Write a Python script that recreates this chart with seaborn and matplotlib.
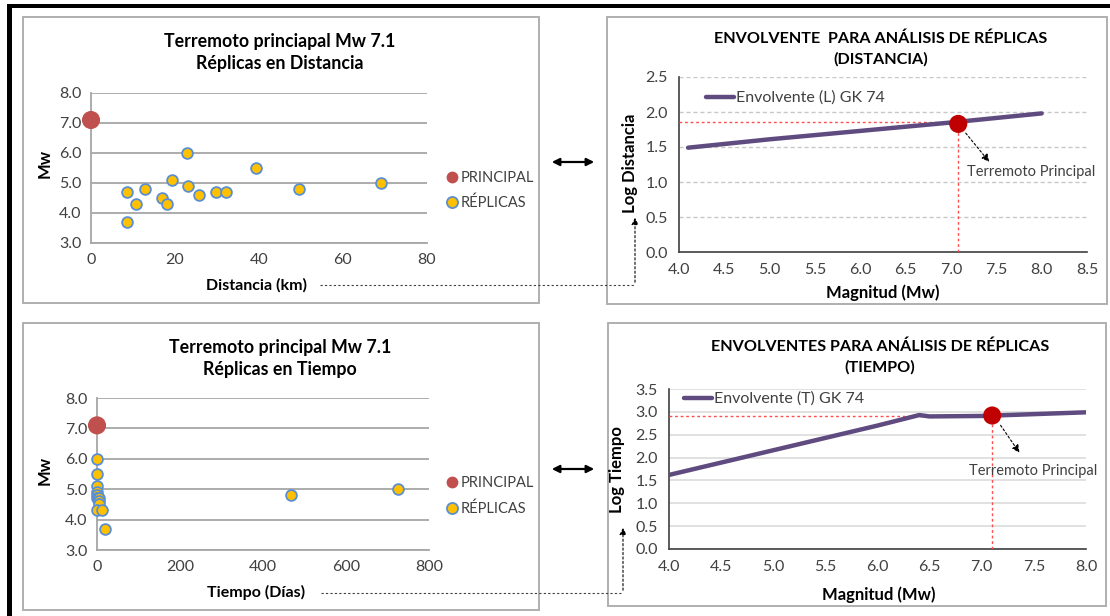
import matplotlib
matplotlib.use("Agg")
import matplotlib.pyplot as plt
import numpy as np
import seaborn as sns
from matplotlib.lines import Line2D
from matplotlib.patches import Rectangle

# ---- data ----
principal_dist = [0.0]
principal_mw = [7.1]
dist_km = [8.5, 8.5, 10.7, 12.9, 16.8, 18.2, 19.4, 22.8, 23.2, 25.8, 29.8, 32.1, 39.4, 49.6, 69.0]
mw_dist = [4.7, 3.7, 4.3, 4.8, 4.5, 4.3, 5.1, 6.0, 4.9, 4.6, 4.7, 4.7, 5.5, 4.8, 5.0]

principal_dias = [0.0]
tiempo_dias = [1, 1, 1, 1, 0, 0, 2, 6, 5, 6, 1, 13, 19, 467, 725]
mw_tiempo = [6.0, 5.5, 5.1, 4.9, 4.8, 4.7, 4.7, 4.7, 4.6, 4.5, 4.3, 4.3, 3.7, 4.8, 5.0]

env_l_mag = [4.1, 5.0, 6.0, 7.0, 8.0]
env_l_log = [1.49, 1.61, 1.73, 1.85, 1.98]
princ_l_mag, princ_l_log, princ_l_ref = 7.08, 1.83, 1.86

env_t_mag = [4.0, 4.5, 5.0, 5.5, 6.0, 6.4, 6.5, 7.0, 7.5, 8.0]
env_t_log = [1.62, 1.89, 2.16, 2.43, 2.70, 2.93, 2.90, 2.91, 2.95, 2.99]
princ_t_mag, princ_t_log, princ_t_ref = 7.1, 2.92, 2.91

W, H = 1110, 616
RED_L = "#C0504D"
GOLD = "#FFC000"
BLUE = "#5B8FD0"
PURPLE = "#5F4B7F"
RED_P = "#C00000"
TXT = "#404040"

sns.set_theme(style="white")
plt.rcParams["font.family"] = ["Lato", "DejaVu Sans"]

fig = plt.figure(figsize=(W / 100, H / 100), dpi=100)


def fy(y):
    return H - y


def px_axes(x0, y0, x1, y1):
    return fig.add_axes([x0 / W, 1 - y1 / H, (x1 - x0) / W, (y1 - y0) / H])


# frame decorations
fig.add_artist(Rectangle((7 / W, 1 - 8 / H), 1 - 7 / W, 4 / H, transform=fig.transFigure,
                         color="black", lw=0))
fig.add_artist(Rectangle((7 / W, 0), 5 / W, 1 - 4 / H, transform=fig.transFigure,
                         color="black", lw=0))
for (x0, y0, x1, y1) in [(23, 17, 539, 303), (607, 17, 1107, 304),
                         (23, 323, 539, 610), (608, 323, 1106, 606)]:
    fig.add_artist(Rectangle((x0 / W, 1 - y1 / H), (x1 - x0) / W, (y1 - y0) / H,
                             transform=fig.transFigure, fill=False,
                             edgecolor="#AFAFAF", lw=1.4))


def scatter_panel(ax, px, py, x, y, xmax, xstep, title, xlabel, box):
    sns.scatterplot(x=px, y=py, ax=ax, color=RED_L, s=170, edgecolor="none",
                    zorder=5, clip_on=False, legend=False)
    sns.scatterplot(x=x, y=y, ax=ax, color=GOLD, s=60, edgecolor=BLUE, linewidth=1.3,
                    zorder=6, clip_on=False, legend=False)
    ax.set_xlim(0, xmax)
    ax.set_ylim(3, 8)
    ax.set_xticks(np.arange(0, xmax + 1, xstep))
    ax.set_yticks(np.arange(3, 8.01, 1))
    ax.yaxis.set_major_formatter(matplotlib.ticker.FormatStrFormatter("%.1f"))
    ax.yaxis.grid(True, color="#A6A6A6", lw=1.3)
    ax.set_axisbelow(True)
    for s in ["top", "right"]:
        ax.spines[s].set_visible(False)
    for s in ["left", "bottom"]:
        ax.spines[s].set_color("#A6A6A6")
        ax.spines[s].set_linewidth(1.3)
    ax.tick_params(direction="out", length=4, width=1.2, color="#A6A6A6",
                   labelsize=11.5, labelcolor=TXT, pad=3)
    ax.set_xlabel("")
    ax.set_ylabel("")
    cx, ty, ylab_y, xlab_y, leg_y = box
    fig.text(cx / W, fy(ty) / H, title, ha="center", va="center", fontsize=12.8,
             fontweight="bold", color="black", linespacing=1.3)
    fig.text(45 / W, fy(ylab_y) / H, "Mw", rotation=90, ha="center", va="center",
             fontsize=12, fontweight="bold", color="black")
    fig.text(256 / W, fy(xlab_y) / H, xlabel, ha="center", va="center",
             fontsize=11.5, fontweight="bold", color="black")
    handles = [
        Line2D([], [], ls="", marker="o", markersize=8.5, markerfacecolor=RED_L,
               markeredgecolor="none"),
        Line2D([], [], ls="", marker="o", markersize=8, markerfacecolor=GOLD,
               markeredgecolor=BLUE, markeredgewidth=1.3),
    ]
    ax.legend(handles, ["PRINCIPAL", "RÉPLICAS"], loc="center left",
              bbox_to_anchor=(447 / W, fy(leg_y) / H), bbox_transform=fig.transFigure,
              frameon=False, fontsize=10.5, handlelength=0.7, handletextpad=0.25,
              labelspacing=0.75, borderpad=0, borderaxespad=0, labelcolor=TXT)


ax_tl = px_axes(91, 93, 427, 243)
scatter_panel(ax_tl, principal_dist, principal_mw, dist_km, mw_dist, 80, 20,
              "Terremoto princiapal Mw 7.1\nRéplicas en Distancia", "Distancia (km)",
              (280, 52.5, 163, 285, 190.5))

ax_bl = px_axes(97, 398, 429, 550)
scatter_panel(ax_bl, principal_dias, principal_mw, tiempo_dias, mw_tiempo, 800, 200,
              "Terremoto principal Mw 7.1\nRéplicas en Tiempo", "Tiempo (Días)",
              (280, 358.5, 470, 592, 496))


def envelope_panel(ax, mag, logv, pm, pl, pref, xmax, ymax, title, ylabel, legend_label,
                   dashed_grid, box):
    sns.lineplot(x=mag, y=logv, ax=ax, color=PURPLE, lw=3.2, sort=False,
                 label=legend_label, zorder=4)
    ax.plot([4.0, pm], [pref, pref], color="#FF4D4D", lw=1, ls=(0, (2, 2)), zorder=3)
    ax.plot([pm, pm], [0, pl], color="#FF4D4D", lw=1, ls=(0, (2, 2)), zorder=3)
    sns.scatterplot(x=[pm], y=[pl], ax=ax, color=RED_P, s=170, edgecolor="none",
                    zorder=6, legend=False)
    ax.set_xlim(4, xmax)
    ax.set_ylim(0, ymax)
    ax.set_xticks(np.arange(4, xmax + 0.01, 0.5))
    ax.set_yticks(np.arange(0, ymax + 0.01, 0.5))
    fmt = matplotlib.ticker.FormatStrFormatter("%.1f")
    ax.xaxis.set_major_formatter(fmt)
    ax.yaxis.set_major_formatter(fmt)
    if dashed_grid:
        ax.yaxis.grid(True, color="#C8C8C8", lw=1, ls=(0, (3, 2)))
    else:
        ax.yaxis.grid(True, color="#DCDCDC", lw=1.2)
    ax.set_axisbelow(True)
    for s in ["top", "right"]:
        ax.spines[s].set_visible(False)
    for s in ["left", "bottom"]:
        ax.spines[s].set_color("#404040")
        ax.spines[s].set_linewidth(1.2)
    ax.tick_params(direction="out", length=5, width=1.1, color="#404040",
                   labelsize=11.5, labelcolor=TXT, pad=3)
    ax.set_xlabel("")
    ax.set_ylabel("")
    cx, ty, ylab_x, ylab_y, xlab_x, xlab_y, leg, arr, lab = box
    fig.text(cx / W, fy(ty) / H, title, ha="center", va="center", fontsize=11.6,
             fontweight="bold", color="black", linespacing=1.55)
    fig.text(ylab_x / W, fy(ylab_y) / H, ylabel, rotation=90, ha="center", va="center",
             fontsize=12, fontweight="bold", color="black")
    fig.text(xlab_x / W, fy(xlab_y) / H, "Magnitud (Mw)", ha="center", va="center",
             fontsize=12, fontweight="bold", color="black")
    ax.legend(loc="center left", bbox_to_anchor=(leg[0] / W, fy(leg[1]) / H),
              bbox_transform=fig.transFigure, frameon=False, fontsize=11.5,
              handlelength=1.75, handletextpad=0.1, borderpad=0, borderaxespad=0,
              labelcolor=TXT)
    fig.add_artist(matplotlib.patches.FancyArrowPatch(
        (arr[0] / W, fy(arr[1]) / H), (arr[2] / W, fy(arr[3]) / H),
        transform=fig.transFigure, arrowstyle="-|>", mutation_scale=11,
        color="black", lw=0.8, ls=(0, (2, 2))))
    fig.text(lab[0] / W, fy(lab[1]) / H, "Terremoto Principal", ha="left", va="center",
             fontsize=10.5, color=TXT)


ax_tr = px_axes(679, 77, 1087, 252)
envelope_panel(ax_tr, env_l_mag, env_l_log, princ_l_mag, princ_l_log, princ_l_ref, 8.5, 2.5,
               "ENVOLVENTE  PARA ANÁLISIS DE RÉPLICAS\n(DISTANCIA)", "Log Distancia",
               "Envolvente (L) GK 74", True,
               (881, 49, 630, 163, 883, 293, (706, 98), (964, 131, 991, 164), (967, 172)))

ax_br = px_axes(669, 389, 1086, 549)
envelope_panel(ax_br, env_t_mag, env_t_log, princ_t_mag, princ_t_log, princ_t_ref, 8.0, 3.5,
               "ENVOLVENTES PARA ANÁLISIS DE RÉPLICAS\n(TIEMPO)", "Log Tiempo",
               "Envolvente (T) GK 74", False,
               (880, 357, 617, 470, 879, 595, (684, 399), (999, 423, 1021, 455), (969, 471)))

# connectors between panels
for y in (162, 469):
    fig.add_artist(matplotlib.patches.FancyArrowPatch(
        (549 / W, fy(y) / H), (597 / W, fy(y) / H), transform=fig.transFigure,
        arrowstyle="<|-|>", mutation_scale=11, color="black", lw=1.6))

for (x0, x1, y0, y1) in [(320, 635, 285, 215), (321, 623, 593, 525)]:
    fig.add_artist(Line2D([x0 / W, x1 / W], [fy(y0) / H, fy(y0) / H],
                          transform=fig.transFigure, color="#404040", lw=0.8,
                          ls=(0, (2, 2))))
    fig.add_artist(matplotlib.patches.FancyArrowPatch(
        (x1 / W, fy(y0) / H), (x1 / W, fy(y1) / H), transform=fig.transFigure,
        arrowstyle="-|>", mutation_scale=10, color="black", lw=0.8, ls=(0, (2, 2))))

fig.savefig("out.png", dpi=100)
